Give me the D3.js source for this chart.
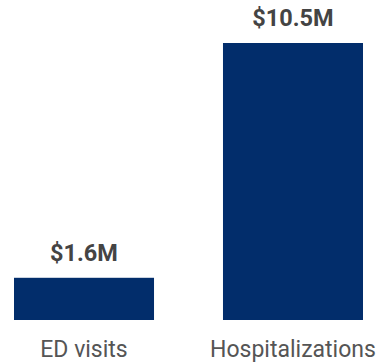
<!DOCTYPE html>
<html>
<head>
<meta charset="utf-8">
<script src="https://cdn.jsdelivr.net/npm/d3@7"></script>
<style>
  html, body { margin: 0; padding: 0; background: #fff; }
  svg { display: block; }
</style>
</head>
<body>
<svg id="chart" width="383" height="364"></svg>
<script>
// Cost by utilization type, in millions of dollars
const categories = ["ED visits", "Hospitalizations"];
const values = [1.6, 10.5];
const valueLabels = ["$1.6M", "$10.5M"];

const svg = d3.select("#chart");
const baseline = 320;

const x = d3.scaleBand()
  .domain(categories)
  .range([14, 363])
  .paddingInner(0.33)
  .paddingOuter(0);

const y = d3.scaleLinear()
  .domain([0, 10.5])
  .range([baseline, 43]);

const data = categories.map((c, i) => ({ c, v: values[i], label: valueLabels[i] }));

svg.selectAll("rect.bar")
  .data(data)
  .join("rect")
  .attr("class", "bar")
  .attr("x", d => x(d.c))
  .attr("width", x.bandwidth())
  .attr("y", d => y(d.v))
  .attr("height", d => baseline - y(d.v))
  .attr("fill", "#022d6b");

svg.selectAll("text.value")
  .data(data)
  .join("text")
  .attr("class", "value")
  .attr("x", d => x(d.c) + x.bandwidth() / 2)
  .attr("y", d => y(d.v) - 17)
  .attr("text-anchor", "middle")
  .attr("font-family", "Roboto, sans-serif")
  .attr("font-weight", "bold")
  .attr("font-size", 23.5)
  .attr("fill", "#444")
  .text(d => d.label);

svg.selectAll("text.cat")
  .data(data)
  .join("text")
  .attr("class", "cat")
  .attr("x", d => x(d.c) + x.bandwidth() / 2)
  .attr("y", 357)
  .attr("text-anchor", "middle")
  .attr("font-family", "Roboto, sans-serif")
  .attr("font-size", 23)
  .attr("fill", "#555")
  .text(d => d.c);
</script>
</body>
</html>
